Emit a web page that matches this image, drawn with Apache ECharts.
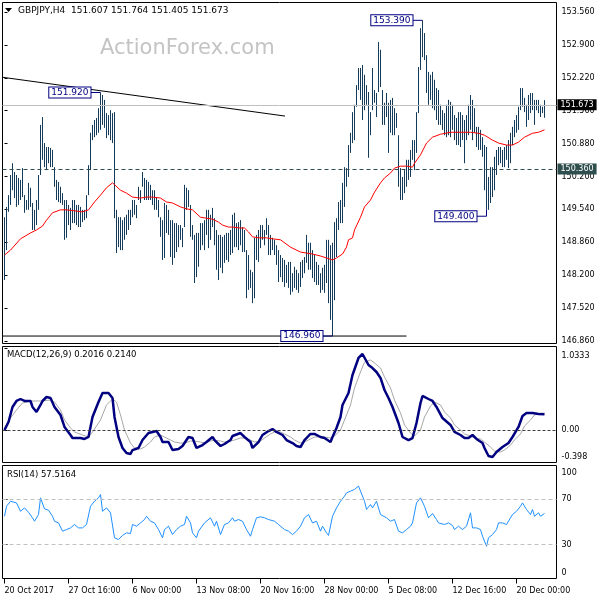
<!DOCTYPE html>
<html><head><meta charset="utf-8">
<script src="https://cdn.jsdelivr.net/npm/echarts@6/dist/echarts.min.js"></script>
<style>html,body{margin:0;padding:0;background:#fff}#c{width:600px;height:600px}</style>
</head><body><div id="c"></div>
<script>
// ---------- data ----------
const symbol = 'GBPJPY', timeframe = 'H4';
const lastQuote = [151.607, 151.764, 151.405, 151.673]; // O H L C of last bar
const levelPrice = 150.36;

const barHigh = [
149.38,149.59,149.83,150.24,150.48,150.30,150.24,150.18,150.14,150.38,
149.83,149.73,150.08,149.98,149.67,149.53,149.73,150.24,151.26,151.42,
150.89,150.81,150.81,150.79,150.75,150.40,150.14,150.10,150.00,149.87,
149.73,149.73,149.63,149.57,149.73,149.73,149.63,149.63,149.59,149.53,
149.53,149.83,150.44,151.10,151.26,151.36,151.40,151.60,151.92,151.87,
151.77,151.50,151.46,151.56,151.50,151.52,149.53,149.38,149.38,149.32,
149.38,149.43,149.53,149.53,149.73,149.73,149.63,150.00,149.93,150.30,
150.18,150.14,150.10,150.04,149.93,149.93,149.79,149.73,149.38,149.32,
149.67,149.63,149.53,149.32,149.32,149.26,149.26,149.22,149.22,149.16,
150.04,149.98,149.93,149.63,149.22,149.02,149.06,149.06,149.26,149.26,
149.32,149.53,149.53,149.43,149.57,149.36,149.12,149.02,149.02,148.98,
149.02,149.06,149.06,149.12,149.43,149.47,149.26,149.28,149.32,149.18,
149.12,148.71,148.61,148.31,148.26,148.96,149.02,149.12,149.22,149.22,
149.12,149.36,149.22,149.02,148.96,148.92,148.81,148.71,148.61,148.55,
148.51,148.41,148.47,148.47,148.24,148.37,148.31,148.24,148.47,148.51,
148.57,149.02,148.86,148.86,148.71,148.61,148.47,148.41,148.24,148.35,
148.41,148.92,148.92,148.81,148.86,149.28,149.36,149.69,149.73,150.08,
150.40,150.38,150.85,151.10,151.52,151.67,152.07,152.42,152.42,152.48,
152.28,152.07,151.93,151.52,152.42,151.97,151.91,152.95,152.79,151.97,
151.71,151.91,151.71,151.77,151.81,151.60,151.50,151.05,150.38,150.20,
150.34,150.55,150.55,150.75,150.95,150.95,151.52,152.44,153.23,153.39,
153.13,152.68,152.34,152.28,152.34,152.18,152.01,151.97,151.67,151.56,
151.50,151.67,151.77,151.73,151.67,151.46,151.40,151.52,151.52,151.46,
151.36,151.46,151.67,151.87,151.77,151.60,151.22,151.22,151.16,151.01,
150.85,150.81,150.20,150.40,150.40,150.61,150.75,150.81,150.81,150.75,
150.81,150.85,150.95,151.10,151.22,151.36,151.46,151.63,152.01,152.01,
151.81,151.67,151.87,151.91,151.91,151.77,151.77,151.77,151.67,151.63,
151.764];
const barLow = [
148.10,148.71,149.49,149.63,149.93,149.77,149.59,149.63,149.73,149.79,
149.47,149.53,149.53,149.59,149.12,149.12,149.22,149.53,150.24,150.55,
150.40,150.34,150.48,150.40,150.40,150.00,149.73,149.69,149.67,149.63,
148.92,148.96,149.22,149.12,149.26,149.26,149.22,149.18,149.18,149.28,
149.32,149.36,149.83,150.34,150.95,151.01,151.05,151.10,151.16,151.26,
151.20,150.99,151.05,150.95,150.89,149.36,148.65,148.77,148.71,148.71,
148.92,149.02,149.12,149.22,149.38,149.43,149.36,149.73,149.67,150.00,
149.73,149.73,149.73,149.73,149.63,149.53,149.53,149.38,148.98,148.51,
148.55,149.06,149.02,148.57,148.41,148.55,148.67,148.77,148.92,148.77,
149.18,149.53,149.59,148.98,148.92,148.04,148.16,148.37,148.71,148.81,
148.71,149.02,148.75,148.92,149.18,148.81,148.31,148.10,148.35,148.24,
148.45,148.51,148.47,148.61,148.65,148.77,148.77,148.71,148.81,148.67,
148.67,147.73,147.90,147.94,147.63,147.73,148.51,148.47,148.75,148.92,
148.81,149.02,148.61,148.61,148.71,148.61,148.41,148.06,148.16,148.06,
147.96,148.04,147.94,147.80,147.86,147.94,147.90,147.84,147.96,148.14,
148.24,148.45,148.31,148.31,148.14,148.06,148.00,148.00,147.84,147.90,
147.84,148.04,147.63,147.29,146.96,147.69,148.57,149.12,149.26,149.26,
149.59,150.00,150.20,150.69,150.89,150.95,151.63,151.97,151.77,151.36,
151.56,151.67,150.59,151.05,151.56,151.71,151.42,151.93,152.03,151.26,
151.26,151.42,150.69,151.10,151.05,151.05,151.20,150.00,149.73,149.73,
149.87,150.00,150.14,150.20,150.55,150.34,150.69,151.50,152.38,152.64,
152.58,151.91,151.67,151.77,151.60,151.56,151.36,151.26,151.26,151.16,
151.05,151.01,151.05,151.01,151.16,150.95,150.85,150.85,150.81,150.95,
150.48,150.95,151.05,151.16,150.95,151.10,150.81,150.75,150.75,150.61,
149.93,149.53,149.53,149.67,149.79,149.93,150.24,150.44,150.48,150.40,
150.40,150.55,150.38,150.48,150.85,151.01,151.10,151.16,151.56,151.63,
151.52,151.22,151.36,151.50,151.56,151.26,151.56,151.50,151.42,151.50,
151.405];

// moving average (red), read at sampled bars
const maBars = [0,3,8,13,16,19,21,24,28,31,39,42,45,48,51,54,55,58,61,64,68,71,74,78,81,84,88,91,94,98,101,104,107,109,112,114,118,120,122,124,127,131,134,138,143,148,151,154,158,161,164,166,169,171,172,174,175,178,180,183,185,188,190,193,195,198,201,204,205,208,211,214,218,223,228,233,237,240,244,247,251,254,257,260,264,267,270];
const maValues = [148.61,148.71,148.94,149.06,149.12,149.20,149.32,149.47,149.53,149.53,149.49,149.53,149.69,149.83,149.98,150.08,150.04,149.93,149.87,149.79,149.77,149.79,149.79,149.77,149.69,149.67,149.59,149.55,149.53,149.38,149.36,149.34,149.28,149.22,149.18,149.18,149.16,149.16,149.08,148.98,148.96,148.96,148.94,148.92,148.77,148.67,148.65,148.63,148.59,148.55,148.51,148.55,148.63,148.77,148.92,148.96,149.12,149.38,149.59,149.73,149.89,150.08,150.18,150.28,150.38,150.42,150.42,150.40,150.48,150.65,150.89,151.01,151.07,151.11,151.11,151.11,151.09,151.05,150.95,150.89,150.85,150.85,150.91,151.01,151.09,151.11,151.16];

// MACD main line
const macdBars = [0,2,4,6,8,10,13,14,16,18,19,21,23,25,28,30,33,34,38,40,42,44,47,49,52,54,55,57,59,61,63,64,67,69,72,74,76,78,79,82,84,87,89,92,94,96,99,101,104,105,108,110,113,114,118,120,123,124,127,129,132,134,136,139,141,144,146,148,150,153,155,158,160,163,164,166,168,169,172,174,177,179,180,182,184,185,186,188,190,192,194,197,199,202,204,206,208,209,212,214,216,219,223,225,228,230,232,234,236,239,240,242,244,246,249,252,254,257,259,261,264,267,270];
const macdMain = [0.004,0.104,0.293,0.368,0.393,0.368,0.368,0.293,0.230,0.318,0.368,0.418,0.406,0.293,0.192,0.042,-0.059,-0.097,-0.097,-0.109,-0.084,0.167,0.355,0.468,0.468,0.406,0.167,-0.084,-0.222,-0.285,-0.298,-0.248,-0.222,-0.122,-0.034,-0.021,-0.009,-0.084,-0.147,-0.147,-0.248,-0.235,-0.197,-0.084,-0.097,-0.222,-0.185,-0.147,-0.084,-0.122,-0.197,-0.172,-0.122,-0.072,-0.034,-0.084,-0.147,-0.222,-0.147,-0.059,-0.009,0.016,-0.021,-0.059,-0.122,-0.160,-0.197,-0.210,-0.122,-0.046,-0.046,-0.084,-0.097,-0.147,-0.084,0.029,0.167,0.318,0.468,0.694,0.908,0.958,0.933,0.820,0.782,0.757,0.732,0.657,0.506,0.406,0.293,0.092,-0.084,-0.122,-0.097,0.092,0.343,0.431,0.393,0.368,0.293,0.154,0.067,-0.021,-0.059,-0.097,-0.097,-0.059,-0.109,-0.160,-0.222,-0.323,-0.335,-0.273,-0.210,-0.160,-0.084,0.042,0.180,0.217,0.217,0.205,0.2016];

// MACD signal line
const signalBars = [0,3,6,9,13,18,23,25,28,30,33,35,39,42,44,48,51,54,56,58,60,63,65,68,70,73,75,78,80,83,85,88,90,93,95,98,100,103,105,108,110,113,115,118,120,123,125,128,130,133,135,138,140,143,145,148,150,153,155,158,160,163,165,168,170,173,175,178,180,183,185,188,190,193,195,198,200,203,205,208,210,213,215,218,220,223,225,228,230,233,235,238,240,243,245,248,250,253,255,258,260,263,265,268,270];
const macdSignal = [0.029,0.154,0.255,0.343,0.368,0.368,0.380,0.355,0.255,0.129,0.029,-0.021,-0.059,-0.084,-0.021,0.129,0.318,0.393,0.355,0.192,0.004,-0.160,-0.222,-0.235,-0.210,-0.147,-0.084,-0.059,-0.084,-0.122,-0.147,-0.160,-0.160,-0.135,-0.135,-0.147,-0.160,-0.135,-0.122,-0.135,-0.147,-0.135,-0.122,-0.097,-0.097,-0.122,-0.147,-0.135,-0.097,-0.046,-0.021,-0.021,-0.046,-0.084,-0.122,-0.160,-0.147,-0.109,-0.084,-0.084,-0.084,-0.097,-0.072,0.004,0.129,0.318,0.531,0.732,0.857,0.883,0.845,0.782,0.669,0.531,0.380,0.217,0.067,-0.034,-0.072,0.004,0.167,0.305,0.355,0.318,0.230,0.154,0.067,0.004,-0.046,-0.072,-0.097,-0.109,-0.147,-0.210,-0.260,-0.273,-0.248,-0.185,-0.122,-0.046,0.054,0.129,0.192,0.217,0.2140];

// RSI(14)
const rsiBars = [0,1,3,4,6,8,10,12,14,15,17,18,20,22,24,25,27,29,31,33,35,37,39,41,43,45,47,48,49,51,53,55,57,59,61,63,64,66,68,70,71,73,75,77,79,80,82,84,86,88,90,91,93,94,96,97,100,103,105,106,108,110,112,114,115,117,119,121,123,124,126,128,130,132,135,137,140,142,144,146,148,150,152,154,156,158,159,161,162,164,166,168,170,171,173,175,177,178,180,181,183,184,186,188,189,191,193,195,197,199,201,203,204,206,208,210,212,214,216,217,220,222,224,225,227,229,231,233,234,236,238,239,241,242,244,246,247,249,251,252,254,256,258,259,261,263,264,265,267,268,270];
const rsiValues = [55.1,63.9,68.4,69.3,66.9,59.5,62.5,58.6,53.7,50.7,56.6,71.4,61.6,60.4,55.1,50.7,49.2,41.9,43.3,44.8,47.8,44.8,44.8,47.8,63.9,68.4,71.4,74.3,59.5,62.5,58.1,36.0,34.5,38.1,40.4,39.8,47.8,46.3,49.2,52.2,55.1,50.7,49.2,43.3,36.0,43.3,46.3,38.9,43.3,46.3,47.8,55.1,49.2,40.4,36.0,41.9,49.2,53.7,46.3,50.7,38.9,47.8,49.2,53.7,50.7,52.2,50.7,43.3,37.4,43.3,53.7,54.6,53.7,52.2,50.7,47.8,43.3,41.9,38.9,41.9,46.3,53.7,56.6,49.2,50.7,41.9,46.3,40.4,38.1,55.1,62.5,68.4,72.9,75.8,77.3,78.8,81.8,80.3,68.4,61.1,65.5,62.5,68.4,56.6,55.1,53.7,50.7,52.2,41.9,40.4,43.3,46.3,49.2,66.9,71.4,63.9,53.7,57.5,52.2,49.2,47.8,49.2,46.9,43.3,46.3,43.3,46.3,58.1,44.8,44.8,43.3,37.4,28.6,36.0,38.9,43.3,49.2,49.2,47.8,46.3,56.6,59.5,63.9,66.9,61.1,56.6,61.1,55.1,58.1,55.1,57.5164];

// drawn objects
const trendLine = [[-1, 152.23], [140.25, 151.44]];
const supportLine = [[-1, 146.96], [201, 146.96]];
const annBars = [48, 209, 241, 164];
const annPrices = [151.92, 153.39, 149.40, 146.96];
const annText = ['151.920', '153.390', '149.400', '146.960'];
const annSide = ['high', 'high', 'low', 'low'];

// axes
const priceTicks = [146.86, 147.53, 148.20, 148.87, 149.54, 150.21, 150.88, 151.55, 152.22, 152.89, 153.56];
const priceTickLabels = ['146.860','147.520','148.200','148.860','149.540','150.200','150.880','151.560','152.220','152.900','153.560'];
const macdScale = [1.0333, 0, -0.398];
const macdScaleLabels = ['1.0333', '0.00', '-0.398'];
const rsiScale = [100, 70, 30, 0];
const rsiScaleLabels = ['100', '70', '30', '0'];
const rsiLevels = [70, 30];
const xTickBars = [0, 32, 64, 96, 128, 160, 192, 224, 256];
const xTickLabels = ['20 Oct 2017','27 Oct 16:00','6 Nov 00:00','13 Nov 08:00','20 Nov 16:00','28 Nov 00:00','5 Dec 08:00','12 Dec 16:00','20 Dec 00:00'];

// ---------- chart ----------
const FONT = "'DejaVu Sans', 'Liberation Sans', sans-serif";
const BAR_COLOR = '#143c5a';
const NAVY = '#000080';
function nearest(arr, v) { let b = 0; for (let i = 1; i < arr.length; i++) if (Math.abs(arr[i] - v) < Math.abs(arr[b] - v)) b = i; return b; }
const pair = (xs, ys) => xs.map((x, i) => [x, ys[i]]);

const chart = echarts.init(document.getElementById('c'), null, { renderer: 'canvas' });

const grids = [
  { left: 2.5, top: 2.5, width: 554, height: 341 },
  { left: 2.5, top: 346.5, width: 554, height: 116 },
  { left: 2.5, top: 465.5, width: 554, height: 113 }
].map(g => Object.assign(g, { show: true, borderColor: '#000', borderWidth: 1, backgroundColor: 'transparent' }));

const xAxes = [0, 1, 2].map(g => ({
  type: 'value', gridIndex: g, min: -1, max: 276, show: g === 2,
  axisLine: { show: false },
  axisTick: { show: true, customValues: xTickBars, length: 5, lineStyle: { color: '#000' } },
  axisLabel: { customValues: xTickBars, formatter: v => xTickLabels[nearest(xTickBars, v)], align: 'left', margin: 8, color: '#000', fontFamily: FONT, fontSize: 8 },
  splitLine: { show: false }
}));

function edgeAxis(g, min, max, vals, labels) {
  return {
    type: 'value', gridIndex: g, position: 'right', min, max,
    axisLine: { show: false },
    axisTick: { show: true, customValues: vals, length: 3, lineStyle: { color: '#000' } },
    axisLabel: {
      customValues: vals, margin: 5, color: '#000', fontFamily: FONT, fontSize: 8,
      formatter: v => { const i = nearest(vals, v); if (i === 0) return '{t|' + labels[i] + '}'; if (i === vals.length - 1) return '{b|' + labels[i] + '}'; return labels[i]; },
      rich: { t: { padding: [15, 0, 0, 0], fontFamily: FONT, fontSize: 8, color: '#000' }, b: { padding: [0, 0, 11, 0], fontFamily: FONT, fontSize: 8, color: '#000' } }
    },
    splitLine: { show: false }
  };
}

const yAxes = [
  {
    type: 'value', gridIndex: 0, position: 'right', min: 146.808, max: 153.753,
    axisLine: { show: false },
    axisTick: { show: true, customValues: priceTicks, length: 3, lineStyle: { color: '#000' } },
    axisLabel: { customValues: priceTicks, formatter: v => priceTickLabels[nearest(priceTicks, v)], margin: 5, color: '#000', fontFamily: FONT, fontSize: 8 },
    splitLine: { show: false }
  },
  edgeAxis(1, -0.4042, 1.0521, macdScale, macdScaleLabels),
  edgeAxis(2, 0, 100, rsiScale, rsiScaleLabels)
];

const priceLabel = (bg) => ({ show: true, position: 'end', distance: 1, color: '#fff', backgroundColor: bg, padding: [2, 3, 1, 3], fontFamily: FONT, fontSize: 8 });

const series = [
  {
    type: 'custom', name: 'bars', xAxisIndex: 0, yAxisIndex: 0, z: 2, clip: true,
    encode: { x: 0, y: [1, 2] },
    data: barHigh.map((h, i) => [i, barLow[i], h]),
    renderItem: (params, api) => {
      const x = api.value(0);
      const lo = api.coord([x, api.value(1)]);
      const hi = api.coord([x, api.value(2)]);
      return { type: 'line', shape: { x1: lo[0], y1: lo[1], x2: hi[0], y2: hi[1] }, style: { stroke: BAR_COLOR, lineWidth: 1 } };
    }
  },
  {
    type: 'line', name: 'MA', xAxisIndex: 0, yAxisIndex: 0, z: 3, symbol: 'none', clip: true,
    data: pair(maBars, maValues), lineStyle: { color: '#ff0000', width: 1 },
    markLine: {
      symbol: 'none', silent: true, animation: false,
      data: [
        { yAxis: lastQuote[3], lineStyle: { color: '#c0c0c0', type: 'solid', width: 1 }, label: Object.assign(priceLabel('#000'), { formatter: lastQuote[3].toFixed(3) }) },
        { yAxis: levelPrice, lineStyle: { color: '#2f4f4f', type: [4, 3], width: 1 }, label: Object.assign(priceLabel('#2f4f4f'), { formatter: levelPrice.toFixed(3) }) }
      ]
    }
  },
  { type: 'line', name: 'trend', xAxisIndex: 0, yAxisIndex: 0, z: 3, symbol: 'none', clip: true, data: trendLine, lineStyle: { color: '#000', width: 1 } },
  { type: 'line', name: 'support', xAxisIndex: 0, yAxisIndex: 0, z: 3, symbol: 'none', clip: true, data: supportLine, lineStyle: { color: '#000', width: 1 } },
  {
    type: 'custom', name: 'tags', xAxisIndex: 0, yAxisIndex: 0, z: 6, clip: false,
    data: annBars.map((b, i) => [b, annPrices[i]]),
    renderItem: (params, api) => {
      const i = params.dataIndex;
      const b = annBars[i];
      const p = api.coord([b, annPrices[i]]);
      const ext = annSide[i] === 'high' ? barHigh[b] : barLow[b];
      const pe = api.coord([b, ext]);
      const bx = p[0] - 10;
      return {
        type: 'group', children: [
          { type: 'polyline', shape: { points: [[bx, p[1]], [p[0], p[1]], [pe[0], pe[1]]] }, style: { stroke: NAVY, lineWidth: 1, fill: null } },
          { type: 'text', x: bx, y: p[1], style: { text: annText[i], align: 'right', verticalAlign: 'middle', fill: NAVY, font: '9px ' + FONT, backgroundColor: '#fff', borderColor: NAVY, borderWidth: 1, padding: [1, 2, 0, 2] } }
        ]
      };
    }
  },
  {
    type: 'line', name: 'signal', xAxisIndex: 1, yAxisIndex: 1, z: 2, symbol: 'none', clip: true,
    data: pair(signalBars, macdSignal), lineStyle: { color: '#a8a8a8', width: 1 },
    markLine: { symbol: 'none', silent: true, animation: false, label: { show: false }, lineStyle: { color: '#404040', type: [3, 2], width: 1 }, data: [{ yAxis: 0 }] }
  },
  { type: 'line', name: 'macd', xAxisIndex: 1, yAxisIndex: 1, z: 3, symbol: 'none', clip: true, data: pair(macdBars, macdMain), lineStyle: { color: NAVY, width: 2.5 } },
  {
    type: 'line', name: 'rsi', xAxisIndex: 2, yAxisIndex: 2, z: 3, symbol: 'none', clip: true,
    data: pair(rsiBars, rsiValues), lineStyle: { color: '#1e90ff', width: 1 },
    markLine: { symbol: 'none', silent: true, animation: false, label: { show: false }, lineStyle: { color: '#c0c0c0', type: [4, 3], width: 1 }, data: rsiLevels.map(v => ({ yAxis: v })) }
  }
];

const graphic = [
  { type: 'text', x: 100, y: 48.5, z: 0, style: { text: 'ActionForex.com', font: "21px 'DejaVu Sans', sans-serif", fill: '#c4c4c4', verticalAlign: 'middle' } },
  { type: 'polygon', shape: { points: [[5, 8], [12, 8], [8.5, 12]] }, style: { fill: '#000' } },
  { type: 'text', x: 18, y: 11, style: { text: symbol + ',' + timeframe + '  ' + lastQuote.map(v => v.toFixed(3)).join(' '), font: '9px ' + FONT, fill: '#000', verticalAlign: 'middle' } },
  { type: 'text', x: 7, y: 355, style: { text: 'MACD(12,26,9) ' + macdMain[macdMain.length - 1].toFixed(4) + ' ' + macdSignal[macdSignal.length - 1].toFixed(4), font: '8.5px ' + FONT, fill: '#000', verticalAlign: 'middle' } },
  { type: 'text', x: 7, y: 475, style: { text: 'RSI(14) ' + rsiValues[rsiValues.length - 1].toFixed(4), font: '8.5px ' + FONT, fill: '#000', verticalAlign: 'middle' } }
];

chart.setOption({ animation: false, backgroundColor: '#fff', grid: grids, xAxis: xAxes, yAxis: yAxes, series, graphic });
</script>
</body></html>
